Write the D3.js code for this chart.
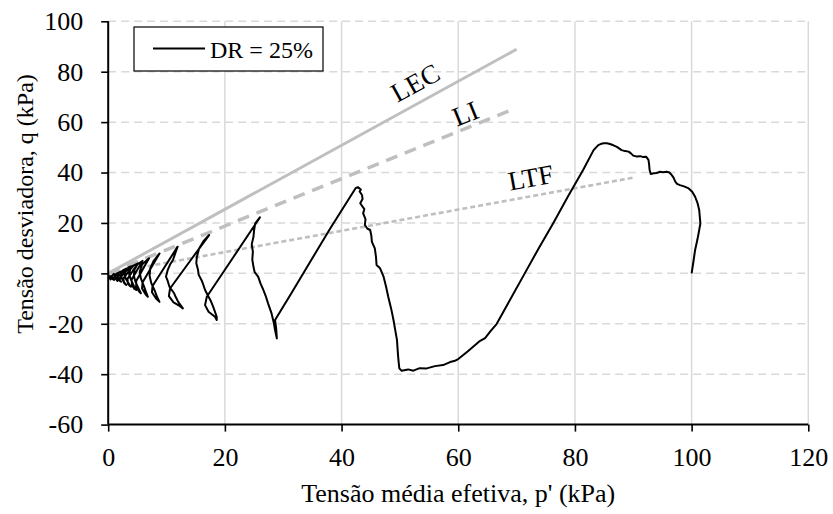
<!DOCTYPE html>
<html>
<head>
<meta charset="utf-8">
<script src="https://cdn.jsdelivr.net/npm/d3@7"></script>
<style>
  html, body { margin: 0; padding: 0; background: #fff; }
  svg text { font-family: "Liberation Serif", "Times New Roman", serif; fill: #000; }
</style>
</head>
<body>
<svg id="chart" width="833" height="514"></svg>
<script>
// ---------- data ----------
const xTicks = [0, 20, 40, 60, 80, 100, 120];
const yTicks = [-60, -40, -20, 0, 20, 40, 60, 80, 100];
const xMinorTicks = [0, 10, 20, 30, 40, 50, 60, 70, 80, 90, 100, 110, 120];
const yMinorTicks = [-60, -50, -40, -30, -20, -10, 0, 10, 20, 30, 40, 50, 60, 70, 80, 90, 100];

const seriesName = "DR = 25%";

// effective stress path (p', q)
const pathP = [
  100, 100.3, 100.6, 101.0, 101.2, 101.5, 101.4, 101.3, 101.0, 100.6, 100.1, 99.5, 98.7, 98.0, 97.5, 97.2, 96.9, 96.6, 96.2, 95.7, 95.1, 94.6, 94.0, 93.5, 93.0, 92.8, 92.7, 92.6, 92.2, 91.6, 91.2, 90.5, 90.0, 89.6, 89.2, 88.6, 88.0, 87.5, 87.2, 86.6, 86.0, 85.5, 84.9, 84.4, 84.0, 83.2,
  81.4, 78.8, 76.3, 73.8, 71.4, 69.0, 66.6, 65.5, 64.6, 63.6, 63.2, 61.6, 60.0, 59.3, 58.6, 57.4, 56.0, 54.6, 53.4, 52.3, 51.4, 50.3, 49.9,
  49.8, 49.7, 49.6, 49.5, 49.2, 48.9, 48.5, 48.0, 47.6, 47.2, 46.6, 46.0, 45.9, 45.7, 45.2, 45.1, 44.9, 44.4, 44.0, 44.1, 43.7, 43.9, 43.2, 43.6, 43.5, 43.1, 43.3, 42.8, 42.4,
  38.0, 34.6, 31.5, 28.6, 28.8, 28.9,
  28.6, 28.4, 28.0, 27.4, 27.0, 26.6, 26.1, 25.7, 25.1, 24.9, 24.7, 24.8, 24.6, 24.9, 25.0, 25.2, 25.6, 26.0,
  21.5, 16.9, 16.6, 17.2, 18.3, 18.6,
  18.6, 18.0, 17.6, 17.2, 16.6, 16.3, 16.0, 15.5, 15.4, 15.1, 15.2, 15.6, 16.4, 17.3,
  14.0, 10.6, 10.4, 11.2, 12.3, 12.8,
  12.0, 11.6, 11.3, 10.5, 10.2, 9.9, 10.2, 10.6, 11.1, 11.5, 11.9,
  7.6, 7.5, 8.2, 8.8,
  8.4, 8.0, 7.4, 7.1, 7.2, 7.8, 8.8,
  5.9, 5.8, 6.4, 6.8,
  6.5, 6.1, 5.6, 5.4, 5.8, 7.0,
  4.8, 4.8, 5.3, 5.6,
  5.2, 4.7, 4.4, 4.5, 5.0, 5.9,
  4.0, 4.1, 4.5, 4.8,
  4.4, 3.9, 3.6, 3.8, 4.4, 5.1,
  3.3, 3.4, 3.7, 3.9,
  3.5, 3.0, 2.8, 3.0, 3.6, 4.2,
  2.6, 2.7, 3.0, 3.1,
  2.7, 2.3, 2.2, 2.5, 3.0, 3.5,
  2.0, 2.0, 2.2,
  1.8, 1.6, 1.8, 2.3, 2.8,
  1.5, 1.5, 1.6, 1.2, 1.1, 1.5, 2.0, 1.0, 1.0, 0.7, 0.6, 1.0, 0.5, 0.4, 0.3, 0.3, 0.2, 0.2
];
const pathQ = [
  0, 4.5, 9.3, 13.5, 15.9, 19.8, 22.5, 25.1, 28.0, 30.4, 32.4, 33.7, 34.5, 35.0, 35.5, 36.4, 38.0, 39.0, 40.0, 40.3, 40.1, 40.3, 39.8, 39.7, 39.4, 41.0, 43.5, 45.0, 46.3, 46.2, 46.5, 46.4, 46.7, 47.6, 48.3, 48.5, 48.9, 49.7, 50.2, 50.8, 51.3, 51.6, 51.6, 51.3, 50.9, 48.9,
  41.0, 30.5, 20.0, 10.0, 0.0, -10.0, -20.0, -23.0, -25.7, -27.0, -27.8, -31.0, -34.0, -34.8, -35.2, -36.4, -36.8, -37.7, -37.6, -38.6, -38.1, -38.6, -37.7,
  -35.5, -33.1, -30.0, -26.5, -22.5, -18.5, -14.0, -9.3, -5.0, -1.3, 2.0, 3.3, 6.5, 9.9, 12.5, 15.0, 17.2, 17.8, 19.2, 21.5, 23.8, 25.5, 27.8, 29.5, 31.1, 32.5, 33.3, 34.2, 33.8,
  17.6, 4.5, -7.5, -18.5, -22.0, -25.8,
  -22.5, -19.8, -15.9, -11.9, -9.0, -6.6, -4.0, -1.3, 0.5, 2.6, 5.5, 8.6, 11.5, 14.5, 17.0, 19.8, 21.0, 22.2,
  6.6, -9.3, -12.6, -15.2, -17.2, -18.5,
  -17.2, -13.3, -11.0, -9.3, -6.6, -4.5, -2.7, -0.5, 1.3, 4.0, 6.6, 10.0, 13.0, 15.2,
  4.8, -6.0, -9.0, -11.5, -13.0, -13.9,
  -11.3, -9.5, -7.9, -5.3, -3.0, -1.3, 1.3, 3.5, 5.3, 8.0, 10.6,
  -5.0, -7.5, -10.0, -11.3,
  -9.5, -7.0, -4.0, -1.0, 2.0, 5.0, 7.9,
  -3.5, -6.0, -8.3, -9.3,
  -7.5, -5.0, -2.0, 0.5, 3.5, 6.0,
  -3.0, -5.5, -7.2, -7.9,
  -6.0, -3.5, -1.0, 1.5, 3.5, 5.0,
  -2.5, -4.8, -6.2, -6.6,
  -5.0, -2.5, -0.5, 1.8, 3.2, 4.0,
  -2.2, -4.2, -5.0, -5.3,
  -4.0, -2.0, -0.3, 1.3, 2.5, 2.9,
  -2.0, -3.7, -4.4, -4.6,
  -3.5, -1.8, -0.3, 1.2, 1.8, 2.0,
  -1.8, -3.0, -3.3,
  -2.5, -1.2, 0.2, 0.8, 1.0,
  -1.6, -2.8, -3.0, -2.0, -0.8, 0.0, 0.5, -1.5, -2.6, -2.2, -1.0, -0.2, -1.5, -2.4, -2.0, -1.0, -1.5, -2.2
];

// reference lines through the origin
const refNames = ["LEC", "LI", "LTF"];
const refEndP = [70.0, 68.6, 90.3];
const refEndQ = [88.9, 64.4, 38.1];
const refLabelP = [52.6, 61.2, 72.4];
const refLabelQ = [75.7, 63.5, 38.1];

// ---------- layout ----------
const svg = d3.select("#chart");
const plotL = 108.2, plotR = 808.3, plotT = 21.3, plotB = 424.6;
const x = d3.scaleLinear().domain([0, 120]).range([plotL, plotR]);
const y = d3.scaleLinear().domain([-60, 100]).range([plotB, plotT]);

const refStyles = [
  { width: 3, dash: null },
  { width: 3.5, dash: "12,8" },
  { width: 2.6, dash: "5,3" }
];
const refColor = "#bfbfbf";
const gridColor = "#d9d9d9";

// gridlines
const g = svg.append("g");
g.selectAll(".vgrid").data(xTicks.filter(d => d > 0)).enter().append("line")
  .attr("x1", d => x(d)).attr("x2", d => x(d))
  .attr("y1", plotT).attr("y2", plotB)
  .attr("stroke", gridColor).attr("stroke-width", 1.5);
g.selectAll(".hgrid").data(yTicks.filter(d => d > -60)).enter().append("line")
  .attr("x1", plotL).attr("x2", plotR)
  .attr("y1", d => y(d)).attr("y2", d => y(d))
  .attr("stroke", gridColor).attr("stroke-width", 1.5)
  .attr("stroke-dasharray", "8,5");

// reference lines
refNames.forEach((name, i) => {
  const line = svg.append("line")
    .attr("x1", x(0)).attr("y1", y(0))
    .attr("x2", x(refEndP[i])).attr("y2", y(refEndQ[i]))
    .attr("stroke", refColor).attr("stroke-width", refStyles[i].width);
  if (refStyles[i].dash) line.attr("stroke-dasharray", refStyles[i].dash);
  const ang = Math.atan2(y(refEndQ[i]) - y(0), x(refEndP[i]) - x(0)) * 180 / Math.PI;
  svg.append("text")
    .attr("transform", `translate(${x(refLabelP[i])},${y(refLabelQ[i])}) rotate(${ang})`)
    .attr("text-anchor", "middle")
    .attr("dy", "0.35em")
    .attr("font-size", 27)
    .text(name);
});

// stress path
const pts = pathP.map((p, i) => [p, pathQ[i]]);
svg.append("path")
  .datum(pts)
  .attr("fill", "none")
  .attr("stroke", "#000")
  .attr("stroke-width", 2)
  .attr("stroke-linejoin", "round")
  .attr("d", d3.line().x(d => x(d[0])).y(d => y(d[1])));

// axes
const fmt = d => String(d);
const xAxis = svg.append("g").attr("transform", `translate(0,${plotB})`);
xAxis.call(d3.axisBottom(x).tickValues(xMinorTicks).tickSize(7).tickFormat(""));
xAxis.call(d3.axisBottom(x).tickValues(xTicks).tickSize(7).tickPadding(16).tickFormat(fmt));
xAxis.selectAll("line").attr("stroke", "#000").attr("stroke-width", 1.6);
xAxis.selectAll("text").attr("font-size", 26);

const yAxis = svg.append("g").attr("transform", `translate(${plotL},0)`);
yAxis.call(d3.axisLeft(y).tickValues(yMinorTicks).tickSize(7).tickFormat(""));
yAxis.call(d3.axisLeft(y).tickValues(yTicks).tickSize(7).tickPadding(18).tickFormat(fmt));
yAxis.selectAll("line").attr("stroke", "#000").attr("stroke-width", 1.6);
yAxis.selectAll("text").attr("font-size", 26);
svg.selectAll("path.domain").remove();

svg.append("line").attr("x1", plotL).attr("x2", plotR).attr("y1", plotB).attr("y2", plotB)
  .attr("stroke", "#000").attr("stroke-width", 2);
svg.append("line").attr("x1", plotL).attr("x2", plotL).attr("y1", plotT).attr("y2", plotB)
  .attr("stroke", "#000").attr("stroke-width", 2);

// axis titles
svg.append("text")
  .attr("x", (plotL + plotR) / 2).attr("y", 502)
  .attr("text-anchor", "middle").attr("font-size", 26)
  .text("Tensão média efetiva, p' (kPa)");
svg.append("text")
  .attr("transform", `translate(33,204) rotate(-90)`)
  .attr("text-anchor", "middle").attr("font-size", 24)
  .text("Tensão desviadora, q (kPa)");

// legend
const lg = svg.append("g");
lg.append("rect").attr("x", 134).attr("y", 27).attr("width", 189).attr("height", 44)
  .attr("fill", "#fff").attr("stroke", "#000").attr("stroke-width", 1.2);
lg.append("line").attr("x1", 153).attr("x2", 205).attr("y1", 48.5).attr("y2", 48.5)
  .attr("stroke", "#000").attr("stroke-width", 1.8);
lg.append("text").attr("x", 210).attr("y", 57.5).attr("font-size", 24).text(seriesName);
</script>
</body>
</html>
